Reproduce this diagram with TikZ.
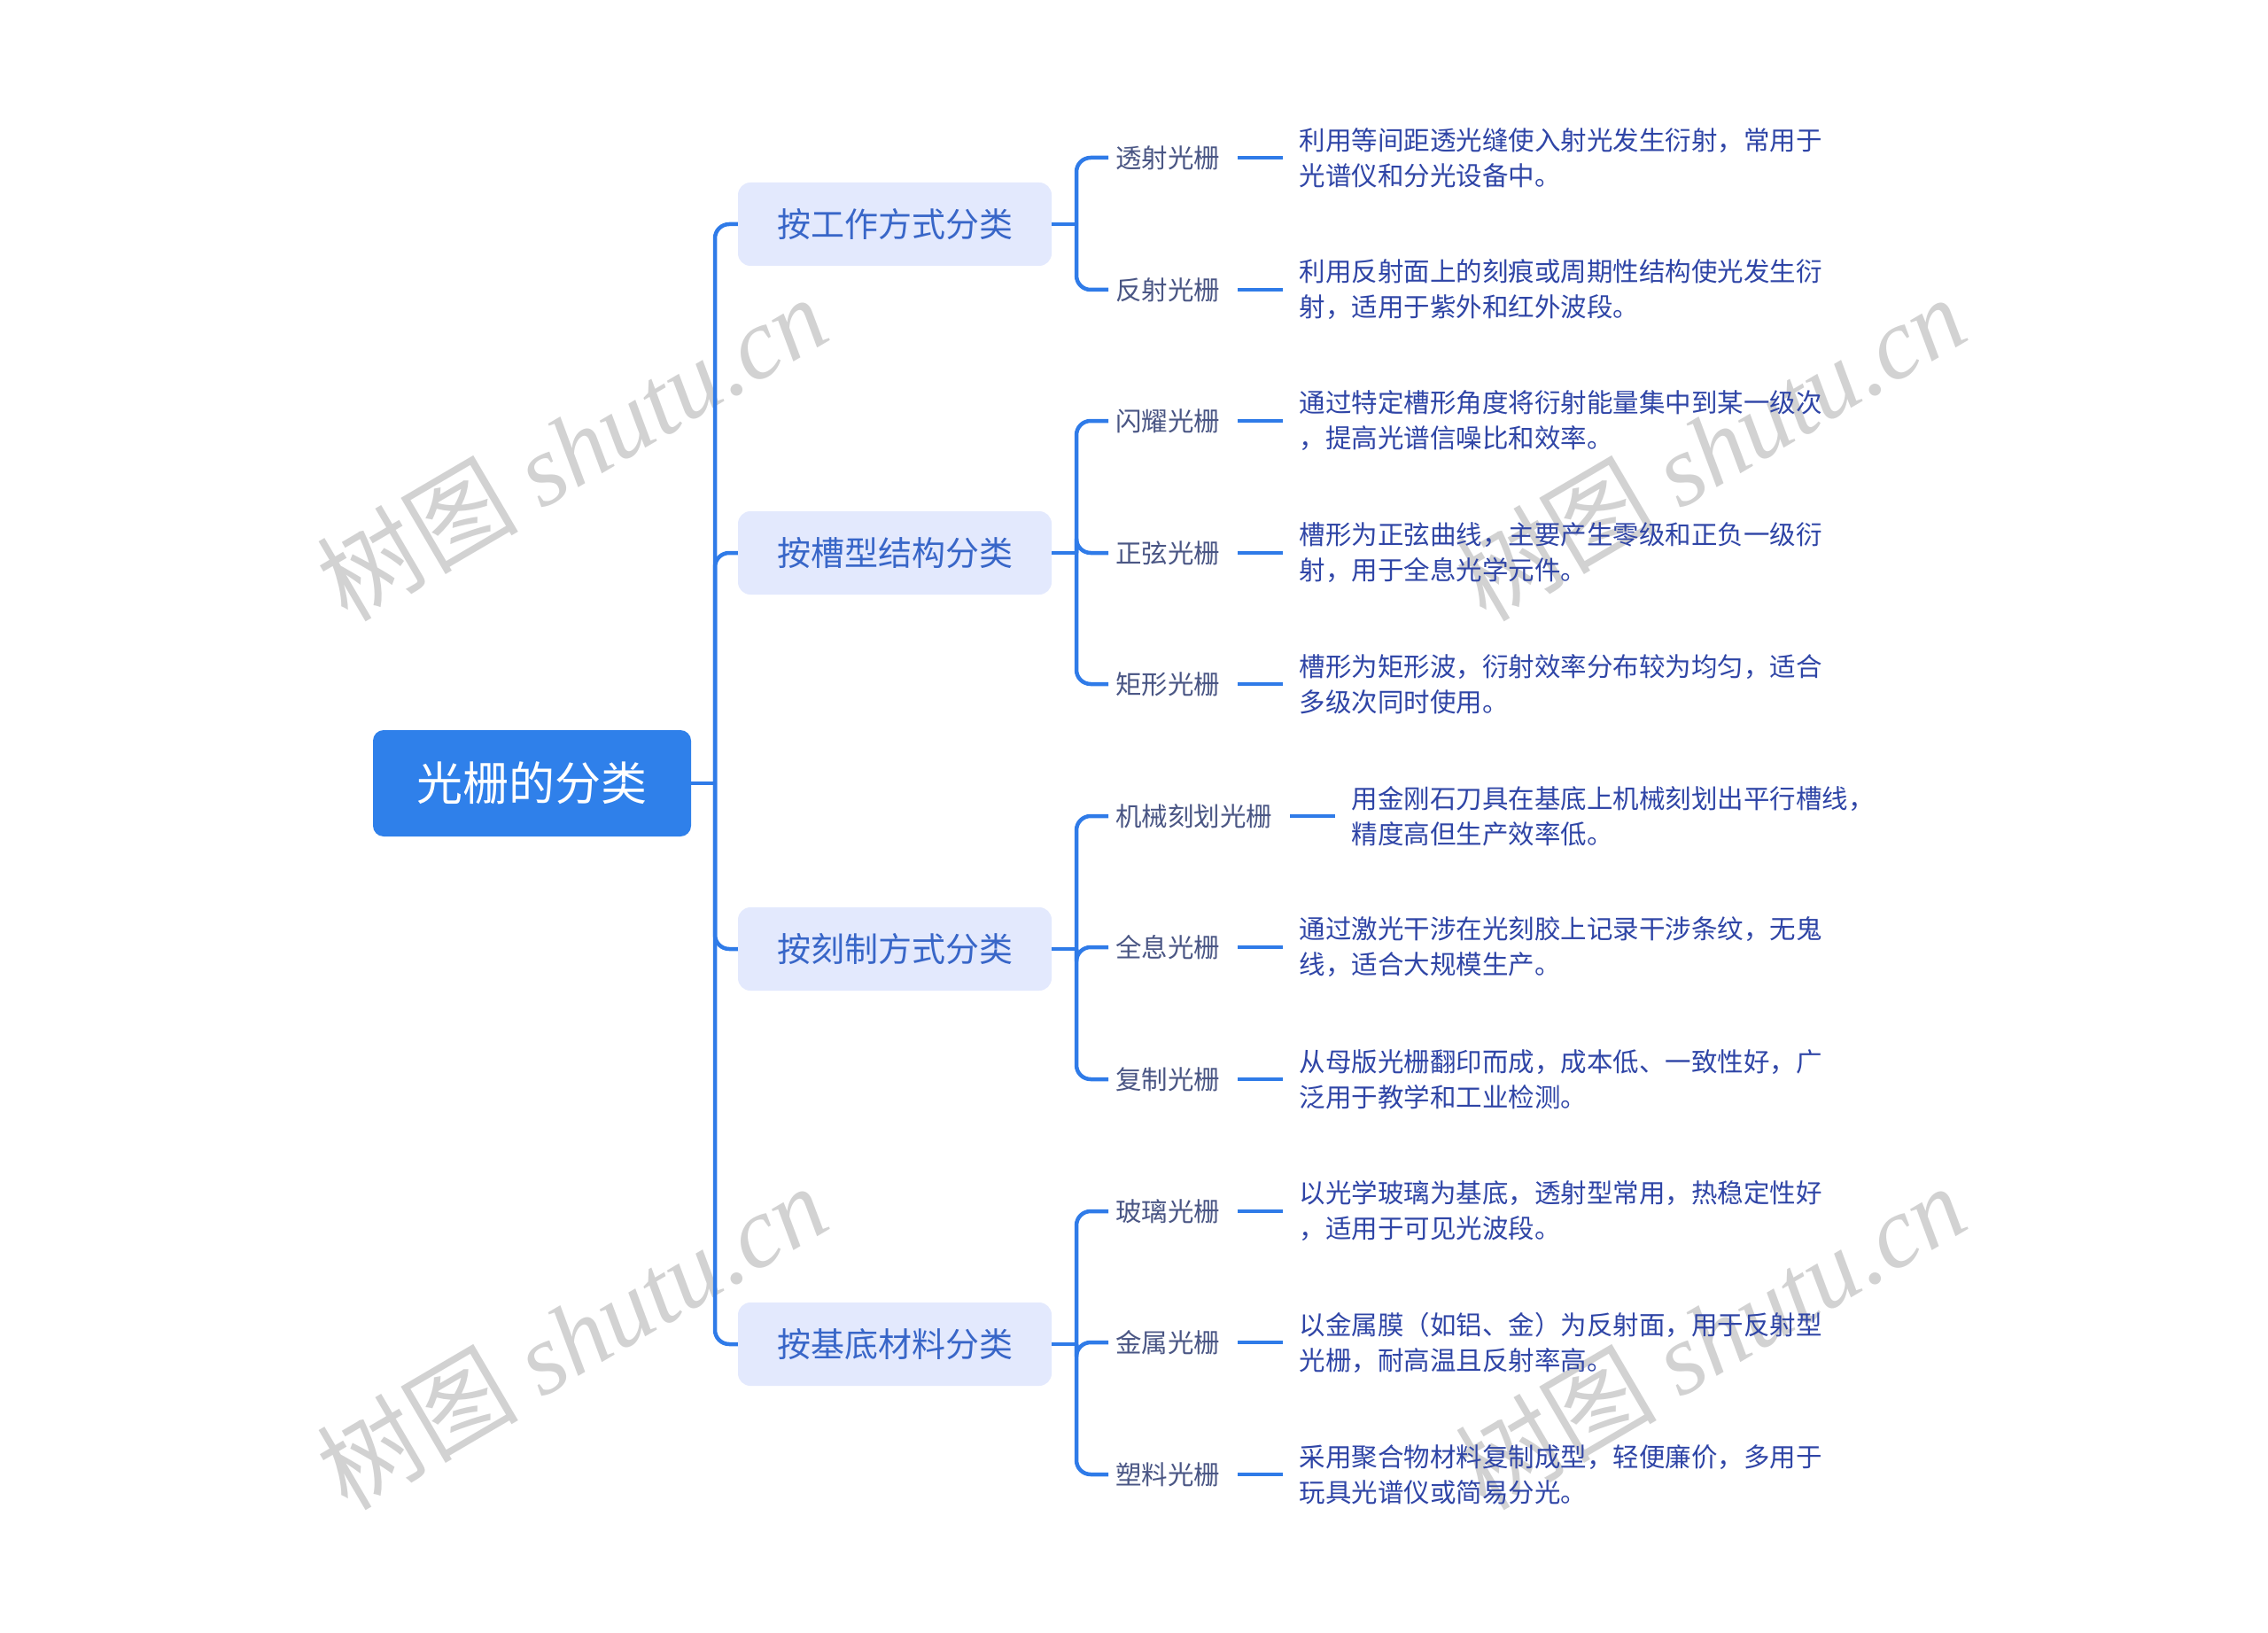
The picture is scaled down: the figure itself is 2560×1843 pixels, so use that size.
\documentclass[tikz,border=0pt]{standalone}
\usepackage{fontspec}
\setmainfont{Noto Sans CJK SC}
\newfontfamily\wmlatin{Liberation Serif}
\newfontfamily\wmcjk{Noto Sans CJK SC}
\usetikzlibrary{positioning}
\definecolor{linec}{HTML}{2F7BE8}
\definecolor{rootc}{HTML}{2F80EA}
\definecolor{catfill}{HTML}{E3E9FD}
\definecolor{cattext}{HTML}{3866C8}
\definecolor{leaftext}{HTML}{4A5684}
\definecolor{desctext}{HTML}{2F45A6}
\definecolor{wmgray}{HTML}{D2D2D2}
\begin{document}
\begin{tikzpicture}[x=1pt,y=-1pt,
  conn/.style={draw=linec, line width=4.5pt, rounded corners=16pt},
  dashline/.style={draw=linec, line width=4.5pt},
  rootbox/.style={fill=rootc, rounded corners=12pt, minimum width=359pt, minimum height=120pt, text=white, font=\fontsize{52}{60}\selectfont, inner sep=0pt},
  catbox/.style={fill=catfill, rounded corners=14pt, minimum width=354pt, minimum height=94pt, text=cattext, font=\fontsize{38}{44}\selectfont, inner sep=0pt},
  leaf/.style={anchor=west, text=leaftext, font=\fontsize{29.5}{36}\selectfont, inner sep=0pt},
  desc/.style={align=left, text=desctext, font=\fontsize{29.5}{40}\selectfont, inner sep=0pt, right=89pt of #1},
  wm/.style={rotate=30.4, text=wmgray, font=\fontsize{114}{124}\selectfont}]
\useasboundingbox (0,0) rectangle (2560,1843);

% watermarks
\foreach \wx/\wy [count=\i] in {645/505, 1930/505, 645/1508, 1930/1508}
  \node[wm] (wm\i) at (\wx,\wy) {{\wmcjk 树图} {\wmlatin\itshape shutu.cn}};

% root and categories
\node[rootbox] (root) at (600.5,884) {光栅的分类};
\node[catbox] (c1) at (1010,253) {按工作方式分类};
\node[catbox] (c2) at (1010,624) {按槽型结构分类};
\node[catbox] (c3) at (1010,1071) {按刻制方式分类};
\node[catbox] (c4) at (1010,1517) {按基底材料分类};

\coordinate (tr) at (807,884);
\draw[dashline] (root.east) -- (tr);
\foreach \c in {c1,c2,c3,c4}
  \draw[conn] (tr) |- (\c.west);

% leaves
\node[leaf] (l1) at (1259,178) {透射光栅};
\node[leaf] (l2) at (1259,327) {反射光栅};
\node[leaf] (l3) at (1259,475) {闪耀光栅};
\node[leaf] (l4) at (1259,624) {正弦光栅};
\node[leaf] (l5) at (1259,772) {矩形光栅};
\node[leaf] (l6) at (1259,921) {机械刻划光栅};
\node[leaf] (l7) at (1259,1069) {全息光栅};
\node[leaf] (l8) at (1259,1218) {复制光栅};
\node[leaf] (l9) at (1259,1367) {玻璃光栅};
\node[leaf] (l10) at (1259,1515) {金属光栅};
\node[leaf] (l11) at (1259,1664) {塑料光栅};

% descriptions
\node[desc=l1] (d1) {利用等间距透光缝使入射光发生衍射，常用于\\光谱仪和分光设备中。};
\node[desc=l2] (d2) {利用反射面上的刻痕或周期性结构使光发生衍\\射，适用于紫外和红外波段。};
\node[desc=l3] (d3) {通过特定槽形角度将衍射能量集中到某一级次\\，提高光谱信噪比和效率。};
\node[desc=l4] (d4) {槽形为正弦曲线，主要产生零级和正负一级衍\\射，用于全息光学元件。};
\node[desc=l5] (d5) {槽形为矩形波，衍射效率分布较为均匀，适合\\多级次同时使用。};
\node[desc=l6] (d6) {用金刚石刀具在基底上机械刻划出平行槽线，\\精度高但生产效率低。};
\node[desc=l7] (d7) {通过激光干涉在光刻胶上记录干涉条纹，无鬼\\线，适合大规模生产。};
\node[desc=l8] (d8) {从母版光栅翻印而成，成本低、一致性好，广\\泛用于教学和工业检测。};
\node[desc=l9] (d9) {以光学玻璃为基底，透射型常用，热稳定性好\\，适用于可见光波段。};
\node[desc=l10] (d10) {以金属膜（如铝、金）为反射面，用于反射型\\光栅，耐高温且反射率高。};
\node[desc=l11] (d11) {采用聚合物材料复制成型，轻便廉价，多用于\\玩具光谱仪或简易分光。};

% category to leaves
\coordinate (j1) at (1215,253);
\coordinate (j2) at (1215,624);
\coordinate (j3) at (1215,1071);
\coordinate (j4) at (1215,1517);
\draw[dashline] (c1.east) -- (j1);
\draw[dashline] (c2.east) -- (j2);
\draw[dashline] (c3.east) -- (j3);
\draw[dashline] (c4.east) -- (j4);
\foreach \l in {l1,l2} \draw[conn] (j1) |- ([xshift=-8pt]\l.west);
\foreach \l in {l3,l4,l5} \draw[conn] (j2) |- ([xshift=-8pt]\l.west);
\foreach \l in {l6,l7,l8} \draw[conn] (j3) |- ([xshift=-8pt]\l.west);
\foreach \l in {l9,l10,l11} \draw[conn] (j4) |- ([xshift=-8pt]\l.west);

% leaf to description dashes
\foreach \i in {1,...,11}
  \draw[dashline] ([xshift=20pt]l\i.east) -- ([xshift=-18pt]l\i.east -| d\i.west);
\end{tikzpicture}
\end{document}
